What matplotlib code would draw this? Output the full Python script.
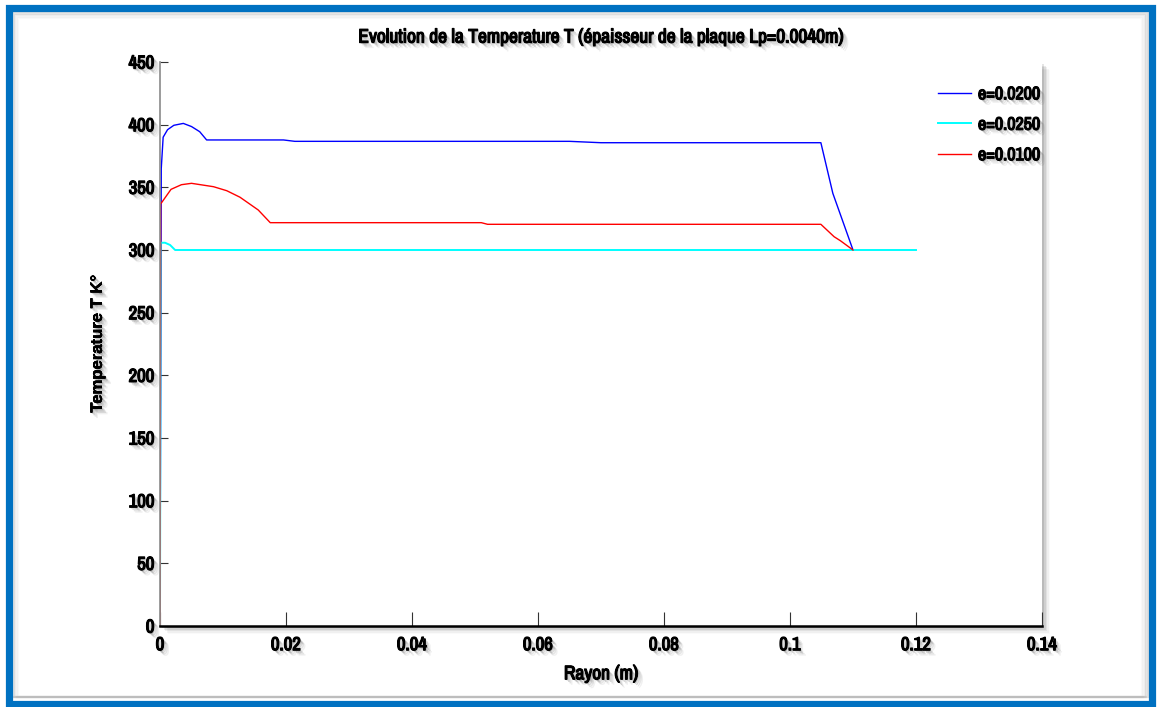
import matplotlib
matplotlib.use("Agg")
import matplotlib.pyplot as plt
import matplotlib.patheffects as pe
from matplotlib.patches import Rectangle
from matplotlib import font_manager

# ---- data -------------------------------------------------------------
rayon_e0200 = [0, 0.0002, 0.0005, 0.0012, 0.0022, 0.0037, 0.0050, 0.0063, 0.0074,
               0.0196, 0.0214, 0.0650, 0.0700, 0.1049, 0.1068, 0.1100]
temp_e0200 = [0, 365, 390, 396, 399.5, 401, 398.5, 394.4, 387.8,
              387.8, 386.7, 386.7, 385.6, 385.6, 345.2, 300]

rayon_e0250 = [0, 0.0001, 0.0008, 0.0016, 0.0024, 0.1200]
temp_e0250 = [0, 305.8, 305.8, 304, 300, 300]

rayon_e0100 = [0, 0.0001, 0.00175, 0.0034, 0.0050, 0.0085, 0.0106, 0.0127, 0.0156,
               0.0175, 0.0510, 0.0520, 0.1049, 0.1070, 0.1080, 0.1100]
temp_e0100 = [0, 336.7, 348.4, 352.1, 353.2, 350.5, 347.3, 342.1, 331.9,
              321.8, 321.8, 320.5, 320.5, 310.6, 307.4, 300]

series_labels = ["e=0.0200", "e=0.0250", "e=0.0100"]
x_ticks = [0, 0.02, 0.04, 0.06, 0.08, 0.1, 0.12, 0.14]
x_ticklabels = ["0", "0.02", "0.04", "0.06", "0.08", "0.1", "0.12", "0.14"]
y_ticks = [0, 50, 100, 150, 200, 250, 300, 350, 400, 450]

# ---- fonts ------------------------------------------------------------
available = {f.name for f in font_manager.fontManager.ttflist}
narrow = [n for n in ["Archivo Narrow", "Liberation Sans Narrow", "Liberation Sans", "DejaVu Sans"]
          if n in available]
regular = [n for n in ["Liberation Sans", "DejaVu Sans"] if n in available]

def shadow(embolden=0.0):
    effects = []
    for off, a in [((1.0, -1.0), 0.18), ((2.0, -2.0), 0.14), ((3.0, -3.0), 0.10), ((4.0, -4.0), 0.06)]:
        effects.append(pe.withSimplePatchShadow(offset=off, shadow_rgbFace="black", alpha=a))
    if embolden:
        effects.append(pe.Stroke(linewidth=embolden, foreground="black"))
    effects.append(pe.Normal())
    return effects

W, H = 1158, 707
fig = plt.figure(figsize=(W / 100, H / 100), dpi=100)
fig.patch.set_facecolor("white")

def fx(px):
    return px / W

def fy(py):
    return 1 - py / H

# blue frame and inner soft edge
for i, a in enumerate([0.22, 0.15, 0.10, 0.06, 0.03]):
    fig.patches.append(Rectangle((fx(12 + i * 1.6), fy(697)), fx(1136 - i * 1.6 * 2), fy(12 + i * 1.6) - fy(697),
                                 transform=fig.transFigure, fill=False,
                                 edgecolor=(0.45, 0.45, 0.45, a), linewidth=1.6, zorder=0))
fig.patches.append(Rectangle((fx(8.5), fy(703.5)), fx(1143), fy(7.5) - fy(703.5),
                             transform=fig.transFigure, fill=False,
                             edgecolor="#0071C1", linewidth=5.2, zorder=1))

# axes placement
ax_l, ax_r, ax_t, ax_b = 160, 1042, 62, 626
ax = fig.add_axes([fx(ax_l), fy(ax_b), fx(ax_r - ax_l), fy(ax_t) - fy(ax_b)])

# drop shadow behind the plotting area
for i, a in enumerate([0.10, 0.08, 0.06, 0.04, 0.02]):
    d = 2 + i * 1.5
    fig.patches.append(Rectangle((fx(ax_l + d), fy(ax_b + d)), fx(ax_r - ax_l), fy(ax_t) - fy(ax_b),
                                 transform=fig.transFigure, facecolor=(0, 0, 0, a),
                                 edgecolor="none", zorder=1))
ax.set_zorder(2)
ax.set_facecolor("white")

l1, = ax.plot(rayon_e0200, temp_e0200, color="#0000FF", lw=1.0)
l2, = ax.plot(rayon_e0250, temp_e0250, color="#00FFFF", lw=1.4)
l3, = ax.plot(rayon_e0100, temp_e0100, color="#FF0000", lw=1.0)

ax.set_xlim(0, 0.14)
ax.set_ylim(0, 450)
ax.set_xticks(x_ticks)
ax.set_xticklabels(x_ticklabels)
ax.set_yticks(y_ticks)

for s in ["top", "right"]:
    ax.spines[s].set_visible(False)
ax.spines["left"].set_color("#8a8a8a")
ax.spines["left"].set_linewidth(1.2)
ax.spines["bottom"].set_color("black")
ax.spines["bottom"].set_linewidth(1.8)

ax.tick_params(axis="x", direction="in", length=10, width=0.8, color="#333333", pad=8)
ax.tick_params(axis="y", direction="in", length=6, width=0.8, color="#333333", pad=4)

for lab in ax.get_xticklabels() + ax.get_yticklabels():
    lab.set_fontfamily(narrow)
    lab.set_fontweight("bold")
    lab.set_fontsize(13.5)
    lab.set_path_effects(shadow(0.9))

ax.set_title("Evolution de la Temperature T (épaisseur de la plaque Lp=0.0040m)",
             fontfamily=narrow, fontweight="bold", fontsize=14, pad=14,
             path_effects=shadow(0.9))
ax.set_xlabel("Rayon (m)", fontfamily=narrow, fontweight="bold", fontsize=14,
              labelpad=8, path_effects=shadow(0.9))
ax.set_ylabel("Temperature T K°", fontfamily=regular, fontweight="bold", fontsize=12,
              labelpad=17, path_effects=shadow())

leg = ax.legend([l1, l2, l3], series_labels, loc="upper left",
                bbox_to_anchor=(fx(922), fy(70)), bbox_transform=fig.transFigure,
                frameon=False, handlelength=1.8, handletextpad=0.4, labelspacing=0.8,
                prop={"family": narrow, "weight": "bold", "size": 13})
for t in leg.get_texts():
    t.set_path_effects(shadow(0.9))

fig.savefig("out.png", dpi=100)
